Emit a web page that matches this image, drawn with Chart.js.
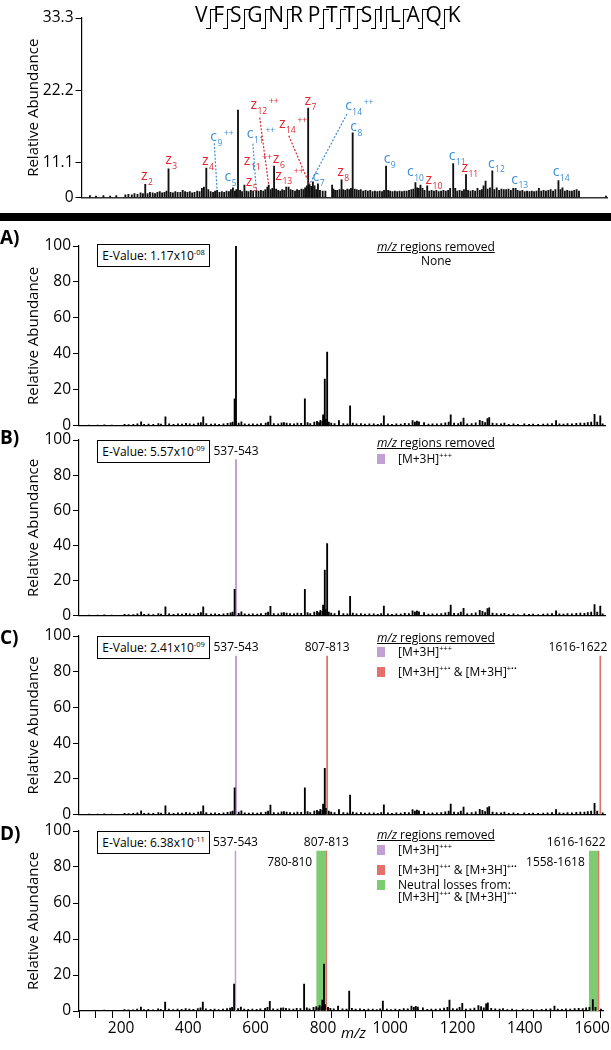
<!DOCTYPE html>
<html>
<head>
<meta charset="utf-8">
<script src="https://cdn.jsdelivr.net/npm/chart.js@4.4.1/dist/chart.umd.min.js"></script>
<style>
  body { margin: 0; background: #fff; font-family: "Open Sans", sans-serif; color: #000; }
  #page { position: relative; width: 611px; height: 1050px; overflow: hidden; }
  canvas { position: absolute; left: 0; }
  .abs { position: absolute; white-space: nowrap; }
  .letter { position: absolute; font-weight: bold; font-size: 19px; line-height: 20px; left: 0; }
  .evalue { position: absolute; left: 97px; width: 111px; height: 21px; border: 1px solid #000;
            font-size: 12px; line-height: 21px; text-align: center; background: #fff; }
  .sup { font-size: 7.5px; position: relative; top: -5px; }
  .lg { position: absolute; left: 377px; font-size: 12px; line-height: 14px; white-space: nowrap; }
  .lg .ttl { text-decoration: underline; }
  .sw { position: absolute; left: 0; width: 8px; height: 10px; }
  .lg .it { position: absolute; left: 21px; }
  #seq { position: absolute; left: 195px; top: 2px; font-size: 21px; line-height: 24px; white-space: nowrap; }
  .sep { display: inline-block; position: relative; width: 0; height: 20px; border-left: 1.2px solid #000;
         vertical-align: -7px; margin: 0 2.4px; }
  .sep::before { content: ""; position: absolute; left: 0; top: 0; width: 5px; border-top: 1.2px solid #000; }
  .sep::after { content: ""; position: absolute; left: -5px; bottom: 0; width: 5px; border-top: 1.2px solid #000; }
</style>
</head>
<body>
<div id="page">
  <div id="seq"></div>
  <div class="abs" style="left:0;top:213px;width:611px;height:8px;background:#000"></div>

  <div class="letter" style="top:227px">A)</div>
  <div class="letter" style="top:427px">B)</div>
  <div class="letter" style="top:627px">C)</div>
  <div class="letter" style="top:823px">D)</div>

  <div class="evalue" style="top:244px">E-Value: 1.17x10<span class="sup">-08</span></div>
  <div class="evalue" style="top:440px">E-Value: 5.57x10<span class="sup">-09</span></div>
  <div class="evalue" style="top:636px">E-Value: 2.41x10<span class="sup">-09</span></div>
  <div class="evalue" style="top:831px">E-Value: 6.38x10<span class="sup">-11</span></div>

  <div class="lg" style="top:240px"><span class="ttl"><i>m/z</i> regions removed</span>
    <div style="position:absolute;left:44px;top:14px">None</div></div>

  <div class="lg" style="top:436px"><span class="ttl"><i>m/z</i> regions removed</span>
    <div class="sw" style="top:18px;background:#c3a0d4"></div><div class="it" style="top:16px">[M+3H]<span class="sup">+++</span></div></div>

  <div class="lg" style="top:631px"><span class="ttl"><i>m/z</i> regions removed</span>
    <div class="sw" style="top:16px;background:#c3a0d4"></div><div class="it" style="top:14px">[M+3H]<span class="sup">+++</span></div>
    <div class="sw" style="top:36px;background:#e3706a"></div><div class="it" style="top:34px">[M+3H]<span class="sup">++•</span> &amp; [M+3H]<span class="sup">+••</span></div></div>

  <div class="lg" style="top:828px"><span class="ttl"><i>m/z</i> regions removed</span>
    <div class="sw" style="top:17px;background:#c3a0d4"></div><div class="it" style="top:15px">[M+3H]<span class="sup">+++</span></div>
    <div class="sw" style="top:37px;background:#e3706a"></div><div class="it" style="top:35px">[M+3H]<span class="sup">++•</span> &amp; [M+3H]<span class="sup">+••</span></div>
    <div class="sw" style="top:52px;background:#7dcc72"></div><div class="it" style="top:50px">Neutral losses from:</div>
    <div class="it" style="top:62px">[M+3H]<span class="sup">++•</span> &amp; [M+3H]<span class="sup">+••</span></div></div>

  <div class="abs" style="left:341px;top:1022px;font-size:15px;font-style:italic">m/z</div>
</div>

<script>
// lower spectra (panels A-D), m/z and relative abundance
const lowerMz = [
  105, 130, 150, 172, 210, 222, 236, 248, 259, 268,
  281, 295, 310, 318, 331, 342, 355, 368, 380, 392,
  403, 415, 428, 436, 443, 452, 466, 478, 490, 503,
  515, 524, 530, 536, 540, 548, 556, 566, 578, 590,
  603, 614, 628, 635, 642, 652, 665, 675, 682, 690,
  700, 712, 722, 733, 744, 752, 760, 772, 780, 786,
  790, 796, 798, 803, 806, 810, 815, 822, 832, 845,
  858, 870, 878, 886, 897, 910, 922, 935, 948, 960,
  970, 978, 990, 1002, 1015, 1028, 1040, 1052, 1063, 1070,
  1076, 1082, 1097, 1110, 1122, 1135, 1148, 1160, 1170, 1176,
  1186, 1198, 1206, 1214, 1225, 1238, 1250, 1262, 1270, 1278,
  1285, 1290, 1300, 1312, 1325, 1335, 1348, 1362, 1375, 1394,
  1408, 1420, 1435, 1450, 1463, 1476, 1488, 1498, 1510, 1522,
  1535, 1548, 1560, 1572, 1582, 1592, 1602, 1610, 1619, 1626
];
const lowerInt = [
  0.4, 0.3, 0.5, 0.4, 0.8, 0.6, 0.7, 1.0, 2.2, 0.8,
  0.9, 0.7, 1.2, 0.9, 5.0, 1.0, 0.8, 1.1, 0.9, 1.3,
  1.0, 0.9, 1.4, 1.8, 5.0, 1.2, 0.9, 1.0, 0.8, 1.1,
  1.3, 1.6, 2.0, 15, 100, 1.4, 2.2, 1.0, 0.9, 1.1,
  0.9, 1.2, 1.5, 2.0, 5.4, 1.2, 1.0, 1.6, 1.8, 1.5,
  1.2, 1.0, 1.5, 1.3, 15, 1.8, 1.2, 2.0, 2.5, 1.8,
  3.0, 2.5, 6.0, 26, 3.5, 41, 2.0, 1.5, 1.2, 2.8,
  1.2, 1.0, 11, 1.5, 1.0, 1.2, 0.9, 1.0, 1.1, 0.8,
  1.2, 5.5, 1.0, 0.8, 1.0, 0.9, 1.3, 1.2, 2.8, 2.0,
  2.6, 2.2, 1.8, 0.9, 1.1, 1.0, 1.2, 1.6, 2.0, 6.0,
  1.4, 1.2, 2.0, 4.2, 1.1, 1.2, 1.6, 3.0, 2.5, 1.8,
  4.0, 4.5, 1.5, 1.2, 1.0, 1.4, 0.8, 1.0, 0.7, 1.0,
  0.8, 0.9, 0.7, 0.9, 1.0, 1.2, 2.8, 1.0, 0.9, 1.2,
  1.0, 1.3, 1.5, 1.4, 1.8, 2.0, 6.3, 2.0, 5.5, 1.0
];

// annotated spectrum at the top, read against its 11.1 / 22.2 / 33.3 ticks
const topMz = [
  100, 118, 140, 160, 178, 205, 214, 224, 232, 241,
  250, 257, 264, 271, 278, 286, 293, 300, 307, 314,
  321, 327, 333, 339, 346, 353, 360, 368, 375, 382,
  389, 396, 403, 410, 418, 425, 432, 438, 445, 451,
  458, 465, 471, 477, 484, 491, 498, 505, 512, 518,
  524, 530, 534, 539, 545, 551, 558, 564, 570, 577,
  584, 593, 600, 607, 614, 620, 626, 630, 636, 641,
  646, 652, 658, 664, 670, 676, 682, 689, 695, 701,
  708, 714, 720, 727, 733, 738, 743, 747, 751, 756,
  761, 766, 771, 776, 782, 790, 798, 818, 822, 827,
  833, 840, 846, 851, 857, 863, 869, 874, 879, 885,
  891, 897, 903, 910, 917, 924, 931, 938, 945, 952,
  959, 966, 972, 978, 984, 990, 997, 1004, 1011, 1018,
  1025, 1032, 1039, 1046, 1053, 1059, 1065, 1070, 1075, 1080,
  1086, 1092, 1100, 1106, 1113, 1120, 1127, 1134, 1141, 1148,
  1155, 1162, 1168, 1177, 1183, 1189, 1196, 1203, 1209, 1215,
  1221, 1228, 1235, 1242, 1249, 1256, 1262, 1267, 1273, 1279,
  1286, 1293, 1299, 1306, 1313, 1320, 1327, 1334, 1341, 1348,
  1355, 1362, 1368, 1375, 1382, 1389, 1396, 1403, 1410, 1417,
  1424, 1431, 1438, 1445, 1452, 1459, 1466, 1473, 1480, 1489,
  1495, 1501, 1508, 1515, 1522, 1529, 1536, 1543, 1550, 1630
];
const topInt = [
  6.1, 6.0, 6.1, 6.0, 6.1, 6.2, 6.3, 6.2, 6.4, 6.3,
  6.5, 6.4, 7.8, 6.4, 6.6, 6.5, 6.4, 6.6, 6.7, 6.5,
  6.6, 6.8, 10.2, 6.6, 6.5, 6.7, 6.6, 6.6, 6.9, 6.7,
  6.6, 6.7, 6.5, 6.6, 6.8, 6.7, 7.2, 7.4, 10.3, 7.0,
  6.7, 6.6, 6.8, 6.9, 6.6, 6.7, 6.6, 6.8, 6.7, 7.0,
  7.3, 6.8, 7.0, 19.2, 6.9, 6.7, 7.7, 6.8, 6.7, 6.9,
  6.8, 6.9, 6.8, 6.9, 6.8, 7.0, 7.4, 7.7, 7.0, 7.2,
  10.6, 7.1, 6.9, 6.8, 7.0, 6.9, 7.4, 7.4, 7.0, 6.9,
  6.8, 7.0, 6.9, 7.1, 7.0, 7.3, 7.6, 19.5, 7.8, 7.5,
  8.2, 7.6, 7.0, 7.9, 6.9, 6.8, 6.8, 7.7, 7.1, 6.9,
  6.9, 7.0, 8.5, 7.0, 6.9, 7.1, 7.0, 7.2, 15.7, 7.1,
  7.0, 6.9, 7.0, 6.8, 6.9, 6.8, 6.9, 6.7, 6.8, 6.7,
  6.8, 6.7, 6.9, 10.6, 6.9, 6.8, 6.7, 6.8, 6.7, 6.8,
  6.7, 6.8, 6.8, 6.9, 7.0, 7.1, 8.1, 7.3, 7.2, 7.7,
  7.2, 6.9, 7.6, 6.8, 6.9, 6.8, 6.9, 6.7, 6.8, 6.9,
  6.8, 6.9, 7.2, 11.0, 7.2, 6.8, 6.9, 6.8, 7.0, 9.3,
  6.9, 6.8, 6.9, 6.8, 7.2, 6.9, 7.0, 7.6, 8.3, 7.1,
  7.3, 9.9, 7.0, 7.3, 6.9, 7.1, 7.0, 7.0, 7.1, 6.9,
  7.2, 7.2, 6.9, 6.8, 6.9, 6.7, 6.8, 6.7, 6.8, 6.7,
  6.8, 7.2, 6.8, 6.9, 6.8, 6.9, 7.0, 6.8, 7.0, 8.4,
  7.0, 7.3, 6.8, 6.9, 6.8, 6.8, 6.9, 7.0, 6.8, 6.0
];

const xTickLabels = [200, 400, 600, 800, 1000, 1200, 1400, 1600];
const yTickLabels = [0, 20, 40, 60, 80, 100];
const topTickValues = [5.8, 11.1, 22.2, 33.3];
const topTickLabels = ['0', '11.1', '22.2', '33.3'];

// removed m/z regions
const purpleBand = [537, 543];
const redBands = [[807, 813], [1616, 1622]];
const greenBands = [[780, 810], [1590, 1618]];
const bandHeight = 89;

// fragment ion labels on the top spectrum
const ionLabels = [
  { ion: 'z', n: '2', chg: '', mz: 264 },
  { ion: 'z', n: '3', chg: '', mz: 333 },
  { ion: 'z', n: '4', chg: '', mz: 445 },
  { ion: 'c', n: '9', chg: '++', mz: 477 },
  { ion: 'c', n: '5', chg: '', mz: 524 },
  { ion: 'z', n: '11', chg: '++', mz: 558 },
  { ion: 'z', n: '5', chg: '', mz: 558 },
  { ion: 'c', n: '11', chg: '++', mz: 593 },
  { ion: 'z', n: '12', chg: '++', mz: 630 },
  { ion: 'z', n: '6', chg: '', mz: 646 },
  { ion: 'z', n: '13', chg: '++', mz: 682 },
  { ion: 'z', n: '7', chg: '', mz: 747 },
  { ion: 'z', n: '14', chg: '++', mz: 751 },
  { ion: 'c', n: '14', chg: '++', mz: 751 },
  { ion: 'c', n: '7', chg: '', mz: 776 },
  { ion: 'z', n: '8', chg: '', mz: 846 },
  { ion: 'c', n: '8', chg: '', mz: 879 },
  { ion: 'c', n: '9', chg: '', mz: 978 },
  { ion: 'c', n: '10', chg: '', mz: 1065 },
  { ion: 'z', n: '10', chg: '', mz: 1100 },
  { ion: 'c', n: '11', chg: '', mz: 1177 },
  { ion: 'z', n: '11', chg: '', mz: 1215 },
  { ion: 'c', n: '12', chg: '', mz: 1293 },
  { ion: 'c', n: '13', chg: '', mz: 1362 },
  { ion: 'c', n: '14', chg: '', mz: 1489 }
];
// label placement (pixels from the peak top) and leader line start (pixels from the label)
const ionLayout = [
  { dx: -1, dy: -7 }, { dx: 0, dy: -7 }, { dx: -1, dy: -6 },
  { dx: -3.5, dy: -52, line: [0.7, 5] },
  { dx: -5, dy: -9 },
  { dx: 2.7, dy: -23 },
  { dx: 4.5, dy: -2 },
  { dx: -6, dy: -55, line: [2.7, 8.3] },
  { dx: -15, dy: -78.5, line: [6, 11] },
  { dx: 2, dy: -6 },
  { dx: -7.6, dy: -10 },
  { dx: -0.4, dy: -5.6 },
  { dx: -27.3, dy: -58.6, line: [6.6, 10] },
  { dx: 39, dy: -77, line: [-1.6, 6.6] },
  { dx: -2, dy: -5 }, { dx: -1, dy: -6 }, { dx: 1, dy: -4.5 }, { dx: 1, dy: -6 },
  { dx: -5, dy: -9 }, { dx: 1.6, dy: -4.6 }, { dx: -1, dy: -6 }, { dx: -1.3, dy: -5 },
  { dx: -1, dy: -5.7 }, { dx: -1, dy: -7.3 }, { dx: -2.4, dy: -6.7 }
];

const peptide = 'VFSGNRPTTSILAQK';

const purple = '#c3a0d4', red = '#e3706a', green = '#7dcc72';
const zRed = '#e0262e', cBlue = '#3b8ed6';
const xMin = 75, xMax = 1633;

Chart.defaults.font.family = '"Open Sans", sans-serif';
Chart.defaults.color = '#000';

// sequence with cleavage marks (none N-terminal to proline)
let seqHtml = '';
peptide.split('').forEach((aa, i) => {
  if (i > 0 && aa !== 'P') seqHtml += '<span class="sep"></span>';
  else if (i > 0) seqHtml += '<span style="display:inline-block;width:4.8px"></span>';
  seqHtml += aa;
});
document.getElementById('seq').innerHTML = seqHtml;

const page = document.getElementById('page');

function peaks(mz, ints, removed) {
  const out = [];
  mz.forEach((m, i) => {
    if (removed.some(r => m >= r[0] && m <= r[1])) return;
    out.push({ x: m, y: ints[i] });
  });
  return out;
}

const xTicks = [];
for (let v = 100; v <= 1600; v += 50) xTicks.push(v);

const ionPlugin = {
  id: 'ions',
  afterDatasetsDraw(chart) {
    const xs = chart.scales.x, ys = chart.scales.y, ctx = chart.ctx;
    ionLabels.forEach((a, i) => {
      const L = ionLayout[i];
      const k = topMz.indexOf(a.mz);
      const px = xs.getPixelForValue(a.mz), py = ys.getPixelForValue(topInt[k]);
      const x = px + L.dx, y = py + L.dy;
      const col = a.ion === 'z' ? zRed : cBlue;
      ctx.save();
      ctx.fillStyle = col;
      ctx.strokeStyle = col;
      if (L.line) {
        ctx.setLineDash([2, 1.6]);
        ctx.lineWidth = 1.2;
        ctx.beginPath();
        ctx.moveTo(x + L.line[0], y + L.line[1]);
        ctx.lineTo(px, py);
        ctx.stroke();
        ctx.setLineDash([]);
      }
      ctx.font = '14px "Open Sans"';
      ctx.textAlign = 'center';
      ctx.textBaseline = 'middle';
      ctx.fillText(a.ion, x, y - 1.5);
      ctx.font = '8.5px "Open Sans"';
      ctx.textAlign = 'left';
      ctx.fillText(a.n, x + 3.8, y + 5);
      if (a.chg) {
        const w = ctx.measureText(a.n).width;
        ctx.fillText(a.chg, x + 5.5 + w, y - 5);
      }
      ctx.restore();
    });
  }
};

const bandLabelPlugin = {
  id: 'bandLabels',
  afterDraw(chart, args, opts) {
    const xs = chart.scales.x, ys = chart.scales.y, ctx = chart.ctx;
    const top = ys.getPixelForValue(bandHeight);
    ctx.save();
    ctx.font = '12px "Open Sans"';
    ctx.fillStyle = '#000';
    ctx.textBaseline = 'middle';
    (opts.items || []).forEach(it => {
      const lo = xs.getPixelForValue(it.band[0]), hi = xs.getPixelForValue(it.band[1]);
      if (it.mode === 'above') {
        ctx.textAlign = 'center';
        ctx.fillText(it.text, (lo + hi) / 2, top - 8);
      } else if (it.mode === 'aboveEnd') {
        ctx.textAlign = 'right';
        ctx.fillText(it.text, hi + 6, top - 8);
      } else {
        ctx.textAlign = 'right';
        ctx.fillText(it.text, lo - 4, top + 12);
      }
    });
    ctx.restore();
  }
};

function addCanvas(top, height) {
  const c = document.createElement('canvas');
  c.width = 611;
  c.height = height;
  c.style.top = top + 'px';
  page.insertBefore(c, page.firstChild);
  return c;
}

function yTitle() {
  return { display: true, text: 'Relative Abundance', color: '#000', font: { size: 15 }, padding: { top: 25, bottom: 0 } };
}

// top annotated spectrum
new Chart(addCanvas(0, 213), {
  type: 'bar',
  data: {
    datasets: [{ data: peaks(topMz, topInt, []), backgroundColor: '#111', barThickness: 1.2, grouped: false }]
  },
  options: {
    responsive: false, animation: false, devicePixelRatio: 1,
    layout: { padding: { top: 18, right: 4, left: 0, bottom: 0 } },
    plugins: { legend: { display: false }, tooltip: { enabled: false } },
    scales: {
      x: {
        type: 'linear', min: xMin, max: xMax, offset: false,
        afterFit: s => { s.height = 15.5; },
        grid: { display: false }, ticks: { display: false },
        border: { color: '#333', width: 1.5 }
      },
      y: {
        min: topTickValues[0], max: 33.3,
        afterFit: s => { s.width = 81.5; },
        afterBuildTicks: s => { s.ticks = topTickValues.map(v => ({ value: v })); },
        grid: { drawOnChartArea: false, tickLength: 6, color: '#000' },
        border: { color: '#000', width: 1.2 },
        ticks: { padding: 2, font: { size: 15.5 }, callback: (v, i) => topTickLabels[i] },
        title: yTitle()
      }
    }
  },
  plugins: [ionPlugin]
});

// panels A-D
function panel(top, height, padTop, xH, removed, bands, labels, showX) {
  const ds = [{ type: 'bar', data: peaks(lowerMz, lowerInt, removed), backgroundColor: '#000', barThickness: 1.2, grouped: false, order: 1 }];
  bands.forEach(b => {
    ds.push({
      type: 'line', data: [{ x: b[0][0], y: bandHeight }, { x: b[0][1], y: bandHeight }],
      fill: 'origin', backgroundColor: b[1], borderWidth: 0, pointRadius: 0, order: 2
    });
  });
  new Chart(addCanvas(top, height), {
    type: 'bar',
    data: { datasets: ds },
    options: {
      responsive: false, animation: false, devicePixelRatio: 1,
      layout: { padding: { top: padTop, right: 6, left: 0, bottom: 0 } },
      plugins: { legend: { display: false }, tooltip: { enabled: false }, bandLabels: { items: labels } },
      scales: {
        x: {
          type: 'linear', min: xMin, max: xMax, offset: false,
          afterFit: s => { s.height = xH; },
          afterBuildTicks: s => { s.ticks = xTicks.map(v => ({ value: v })); },
          grid: { display: showX, drawOnChartArea: false, tickLength: 7, color: '#000' },
          border: { color: '#000', width: 1.2 },
          ticks: {
            display: showX, padding: 1, maxRotation: 0, autoSkip: false, font: { size: 15.5 },
            callback: v => xTickLabels.includes(v) ? String(v) : ''
          }
        },
        y: {
          min: 0, max: 100,
          afterFit: s => { s.width = 79; },
          afterBuildTicks: s => { s.ticks = yTickLabels.map(v => ({ value: v })); },
          grid: { drawOnChartArea: false, tickLength: 6, color: '#000' },
          border: { color: '#000', width: 1.2 },
          ticks: { padding: 2, font: { size: 15.5 } },
          title: yTitle()
        }
      }
    },
    plugins: [bandLabelPlugin]
  });
}

const allRed = [purpleBand, redBands[0], redBands[1]];

panel(218, 219, 28, 10, [], [], [], false);
panel(426, 201, 14, 10, [purpleBand], [[purpleBand, purple]],
  [{ text: '537-543', band: purpleBand, mode: 'above' }], false);
panel(620, 206, 16, 10, allRed,
  [[purpleBand, purple], [redBands[0], red], [redBands[1], red]],
  [{ text: '537-543', band: purpleBand, mode: 'above' },
   { text: '807-813', band: redBands[0], mode: 'above' },
   { text: '1616-1622', band: redBands[1], mode: 'aboveEnd' }], false);
panel(818, 232, 13, 39, allRed,
  [[purpleBand, purple], [greenBands[0], green], [redBands[0], red], [greenBands[1], green], [redBands[1], red]],
  [{ text: '537-543', band: purpleBand, mode: 'above' },
   { text: '807-813', band: redBands[0], mode: 'above' },
   { text: '1616-1622', band: redBands[1], mode: 'aboveEnd' },
   { text: '780-810', band: greenBands[0], mode: 'left' },
   { text: '1558-1618', band: greenBands[1], mode: 'left' }], true);
</script>
</body>
</html>
